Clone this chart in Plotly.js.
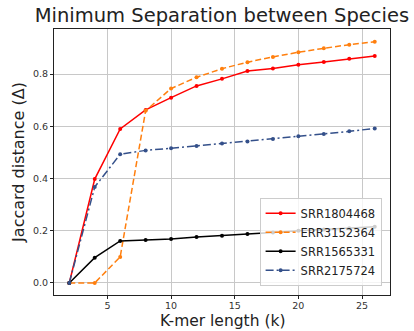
<!DOCTYPE html>
<html>
<head>
<meta charset="utf-8">
<script src="https://cdn.plot.ly/plotly-3.0.1.min.js"></script>
<style>html,body{margin:0;padding:0;background:#fff;}#chart{width:414px;height:331px;}</style>
</head>
<body>
<div id="chart"></div>
<script>
const kmer = [2, 4, 6, 8, 10, 12, 14, 16, 18, 20, 22, 24, 26];
const srr1804468 = [0, 0.398, 0.59, 0.663, 0.71, 0.755, 0.782, 0.812, 0.822, 0.836, 0.847, 0.859, 0.870];
const err3152364 = [0, 0, 0.10, 0.66, 0.745, 0.788, 0.821, 0.846, 0.866, 0.884, 0.899, 0.913, 0.924];
const srr1565331 = [0, 0.097, 0.161, 0.165, 0.169, 0.176, 0.181, 0.188, 0.193, 0.200, 0.205, 0.210, 0.215];
const srr2175724 = [0, 0.368, 0.493, 0.508, 0.516, 0.525, 0.534, 0.542, 0.552, 0.562, 0.571, 0.581, 0.592];
const seriesNames = ["SRR1804468", "ERR3152364", "SRR1565331", "SRR2175724"];
const xTitle = "K-mer length (k)";
const yTitle = "Jaccard distance (Δ)";
const chartTitle = "Minimum Separation between Species";

const styles = [
  {color: "#ff0000", dash: "solid"},
  {color: "#ff7f0e", dash: "6px,3px"},
  {color: "#000000", dash: "solid"},
  {color: "#34508a", dash: "8px,3px,2px,3px"}
];
const ys = [srr1804468, err3152364, srr1565331, srr2175724];

const traces = ys.map((y, i) => ({
  x: kmer, y: y, name: seriesNames[i], type: "scatter", mode: "lines+markers",
  line: {color: styles[i].color, width: 1.5, dash: styles[i].dash},
  marker: {color: styles[i].color, size: 4}
}));

const axisCommon = {
  showgrid: true, gridcolor: "#c8c8c8", gridwidth: 1,
  showline: true, linecolor: "#222", linewidth: 1, mirror: true,
  ticks: "outside", ticklen: 3, tickcolor: "#222",
  zeroline: false, tickfont: {size: 9.5, color: "#333", family: "DejaVu Sans"}
};

const layout = {
  width: 414, height: 331,
  margin: {l: 54, r: 24, t: 29, b: 36},
  paper_bgcolor: "#fff", plot_bgcolor: "#fff",
  font: {family: "DejaVu Sans", color: "#222"},
  title: {text: chartTitle, x: 0.536, xanchor: "center", y: 0.975, yanchor: "top",
          font: {size: 19.5, color: "#222", family: "DejaVu Sans"}},
  xaxis: Object.assign({}, axisCommon, {
    range: [0.8, 27.2], tickvals: [5, 10, 15, 20, 25], ticklabelstandoff: -1
  }),
  yaxis: Object.assign({}, axisCommon, {
    range: [-0.046, 0.973], tickvals: [0, 0.2, 0.4, 0.6, 0.8], tickformat: ".1f",
    title: {text: yTitle, font: {size: 16, color: "#222"}, standoff: 4}
  }),
  annotations: [{
    text: xTitle, xref: "paper", yref: "paper", x: 0.5, y: 0, xanchor: "center", yanchor: "bottom",
    yshift: -36, borderpad: 0, showarrow: false, font: {size: 15.5, color: "#222", family: "DejaVu Sans"}
  }],
  legend: {
    x: 0.975, y: 0.035, xanchor: "right", yanchor: "bottom",
    bgcolor: "rgba(255,255,255,0.8)", bordercolor: "#ccc", borderwidth: 1,
    font: {size: 11.5, color: "#222"}, tracegroupgap: 0, itemwidth: 30
  },
  showlegend: true
};

Plotly.newPlot("chart", traces, layout, {displayModeBar: false, staticPlot: true});
</script>
</body>
</html>
